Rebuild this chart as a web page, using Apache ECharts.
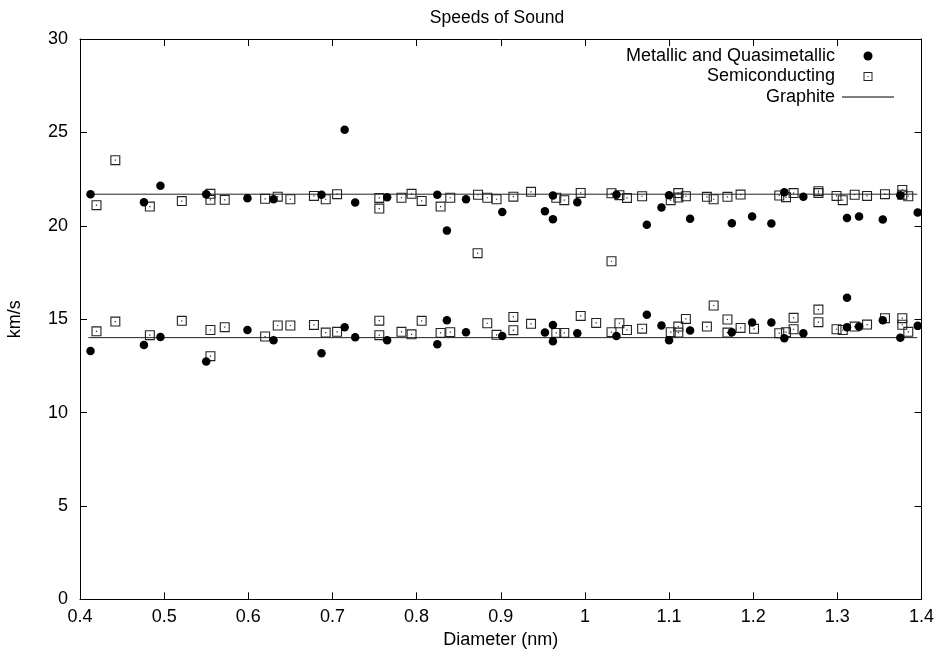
<!DOCTYPE html>
<html>
<head>
<meta charset="utf-8">
<script src="https://cdn.jsdelivr.net/npm/echarts@6/dist/echarts.min.js"></script>
<style>html,body{margin:0;padding:0;background:#fff}#c{width:934px;height:662px}</style>
</head>
<body>
<div id="c"></div>
<script>
const titleText = 'Speeds of Sound';
const xTicks = [0.4, 1.4, 0.1];
const yTicks = [0, 30, 5];
const seriesNames = ['Metallic and Quasimetallic', 'Semiconducting', 'Graphite'];

const metallicUpper = [[0.4125,21.69],[0.476,21.26],[0.4956,22.14],[0.550,21.69],[0.599,21.48],[0.630,21.42],[0.687,21.66],[0.7145,25.14],[0.727,21.24],[0.765,21.53],[0.8246,21.66],[0.836,19.74],[0.8587,21.42],[0.9018,20.74],[0.9525,20.78],[0.962,21.62],[0.962,20.35],[0.991,21.26],[1.0375,21.66],[1.0736,20.05],[1.091,20.98],[1.100,21.64],[1.125,20.37],[1.1746,20.14],[1.1987,20.49],[1.2216,20.12],[1.237,21.80],[1.2596,21.56],[1.3115,20.41],[1.3258,20.49],[1.354,20.33],[1.3748,21.64],[1.3955,20.71]];
const metallicLower = [[0.4125,13.30],[0.476,13.62],[0.4956,14.05],[0.550,12.73],[0.599,14.42],[0.630,13.87],[0.687,13.17],[0.7145,14.57],[0.727,14.03],[0.765,13.87],[0.8246,13.66],[0.836,14.94],[0.8587,14.30],[0.9018,14.10],[0.9525,14.28],[0.962,14.69],[0.962,13.82],[0.991,14.25],[1.0375,14.10],[1.0736,15.24],[1.091,14.66],[1.100,13.87],[1.125,14.39],[1.1746,14.30],[1.1987,14.82],[1.2216,14.82],[1.237,13.98],[1.2596,14.25],[1.3115,16.15],[1.3115,14.57],[1.3258,14.60],[1.354,14.94],[1.3748,14.01],[1.3955,14.64]];
const semiUpper = [[0.4196,21.10],[0.442,23.51],[0.483,21.03],[0.521,21.32],[0.555,21.71],[0.555,21.39],[0.572,21.39],[0.620,21.44],[0.635,21.56],[0.650,21.42],[0.678,21.60],[0.692,21.42],[0.7055,21.69],[0.7557,21.49],[0.7557,20.92],[0.782,21.50],[0.794,21.71],[0.806,21.33],[0.8285,21.03],[0.840,21.50],[0.8725,18.53],[0.873,21.66],[0.884,21.50],[0.895,21.42],[0.915,21.56],[0.936,21.82],[0.966,21.50],[0.9755,21.37],[0.995,21.76],[1.0316,18.10],[1.0316,21.74],[1.041,21.64],[1.050,21.49],[1.068,21.58],[1.102,21.37],[1.111,21.51],[1.111,21.75],[1.120,21.58],[1.145,21.55],[1.153,21.42],[1.1694,21.55],[1.185,21.67],[1.231,21.62],[1.239,21.53],[1.248,21.75],[1.2775,21.75],[1.2775,21.85],[1.299,21.60],[1.3064,21.37],[1.3206,21.66],[1.3353,21.60],[1.3566,21.69],[1.3772,21.92],[1.3772,21.66],[1.3843,21.58]];
const semiLower = [[0.4196,14.35],[0.442,14.87],[0.483,14.14],[0.521,14.91],[0.555,14.42],[0.555,13.02],[0.572,14.57],[0.620,14.07],[0.635,14.66],[0.650,14.66],[0.678,14.69],[0.692,14.28],[0.7055,14.32],[0.7557,14.92],[0.7557,14.14],[0.782,14.32],[0.794,14.19],[0.806,14.91],[0.8285,14.26],[0.840,14.30],[0.884,14.78],[0.895,14.16],[0.915,15.12],[0.915,14.41],[0.936,14.75],[0.966,14.26],[0.9755,14.26],[0.995,15.17],[1.0134,14.80],[1.0316,14.30],[1.041,14.78],[1.050,14.42],[1.068,14.49],[1.102,14.30],[1.111,14.60],[1.111,14.28],[1.120,15.01],[1.145,14.60],[1.153,15.73],[1.1694,14.98],[1.1694,14.28],[1.185,14.53],[1.201,14.48],[1.231,14.25],[1.239,14.30],[1.248,15.07],[1.248,14.46],[1.2775,15.51],[1.2775,14.84],[1.299,14.46],[1.3064,14.42],[1.3206,14.60],[1.3353,14.71],[1.3566,15.05],[1.3772,15.05],[1.3772,14.70],[1.3843,14.32]];
const graphiteRange = [0.41, 1.395];
const graphiteSpeeds = [21.69, 14.01];

const FONT = '"Liberation Sans", Arial, Helvetica, sans-serif';
const squarePath = 'path://M0,0 L10,0 L10,10 L0,10 Z M1.1,1.1 L1.1,8.9 L8.9,8.9 L8.9,1.1 Z M4.4,4.4 L5.6,4.4 L5.6,5.6 L4.4,5.6 Z';
const linePath = 'path://M0,0 L52,0 L52,1.2 L0,1.2 Z';

const chart = echarts.init(document.getElementById('c'), null, {renderer: 'canvas'});
const axisBase = {
  type: 'value',
  splitLine: {show: false},
  axisLine: {show: true, onZero: false, lineStyle: {color: '#000', width: 1}},
  axisTick: {show: true, inside: true, length: 7, lineStyle: {color: '#000'}},
};
const graphiteSeries = graphiteSpeeds.map(v => ({
  name: seriesNames[2], type: 'line', symbol: 'none', silent: true,
  lineStyle: {color: '#222', width: 1}, itemStyle: {color: '#222'},
  data: [[graphiteRange[0], v], [graphiteRange[1], v]], z: 1
}));
chart.setOption({
  animation: false,
  backgroundColor: '#fff',
  textStyle: {fontFamily: FONT, color: '#000'},
  title: {text: titleText, left: 492, top: 4, textAlign: 'center',
    textStyle: {fontFamily: FONT, fontSize: 17.5, fontWeight: 'normal', color: '#000'}},
  grid: {left: 80, right: 12.5, top: 39, bottom: 62.7, containLabel: false, outerBoundsMode: 'none'},
  legend: {
    orient: 'vertical', align: 'right', right: 35, top: 42,
    itemWidth: 52, itemHeight: 9, itemGap: 2.5,
    textStyle: {fontFamily: FONT, fontSize: 18, color: '#000', padding: [0, 2, 0, 0]},
    data: [
      {name: seriesNames[0], icon: 'circle'},
      {name: seriesNames[1], icon: squarePath},
      {name: seriesNames[2], icon: linePath, itemStyle: {color: '#000'}}
    ]
  },
  xAxis: [
    Object.assign({}, axisBase, {position: 'bottom', min: xTicks[0], max: xTicks[1], interval: xTicks[2],
      name: 'Diameter (nm)', nameLocation: 'middle', nameGap: 31,
      nameTextStyle: {fontFamily: FONT, fontSize: 18, color: '#000'},
      axisLabel: {margin: 9, fontFamily: FONT, fontSize: 18, color: '#000'}}),
    Object.assign({}, axisBase, {position: 'top', min: xTicks[0], max: xTicks[1], interval: xTicks[2],
      axisLabel: {show: false}})
  ],
  yAxis: [
    Object.assign({}, axisBase, {position: 'left', min: yTicks[0], max: yTicks[1], interval: yTicks[2],
      name: 'km/s', nameLocation: 'middle', nameGap: 56, nameRotate: 90,
      nameTextStyle: {fontFamily: FONT, fontSize: 18, color: '#000'},
      axisLabel: {margin: 12, fontFamily: FONT, fontSize: 18, color: '#000'}}),
    Object.assign({}, axisBase, {position: 'right', min: yTicks[0], max: yTicks[1], interval: yTicks[2],
      axisLabel: {show: false}})
  ],
  series: [
    {name: seriesNames[0], type: 'scatter', symbol: 'circle', symbolSize: 8.5,
      itemStyle: {color: '#000', opacity: 1}, data: metallicUpper.concat(metallicLower), z: 3},
    {name: seriesNames[1], type: 'scatter', symbol: squarePath, symbolSize: 10,
      itemStyle: {color: '#222', opacity: 1}, data: semiUpper.concat(semiLower), z: 2}
  ].concat(graphiteSeries)
});
</script>
</body>
</html>
